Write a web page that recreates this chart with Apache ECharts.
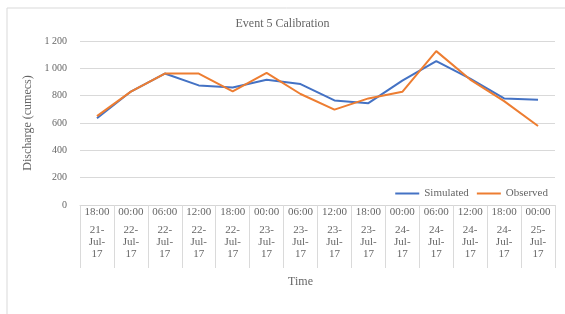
<!DOCTYPE html>
<html>
<head>
<meta charset="utf-8">
<script src="https://cdn.jsdelivr.net/npm/echarts@6/dist/echarts.min.js"></script>
<style>
  html, body { margin: 0; padding: 0; background: #fff; }
  #chart { width: 565px; height: 314px; }
</style>
</head>
<body>
<div id="chart"></div>
<script>
// 时间轴（两行：时刻 + 日期）
var times = ['18:00', '00:00', '06:00', '12:00', '18:00', '00:00', '06:00',
             '12:00', '18:00', '00:00', '06:00', '12:00', '18:00', '00:00'];
var dates = ['21-Jul-17', '22-Jul-17', '22-Jul-17', '22-Jul-17', '22-Jul-17', '23-Jul-17', '23-Jul-17',
             '23-Jul-17', '23-Jul-17', '24-Jul-17', '24-Jul-17', '24-Jul-17', '24-Jul-17', '25-Jul-17'];
var simulated = [635, 830, 962, 875, 860, 917, 885, 765, 745, 910, 1052, 925, 780, 770];
var observed = [650, 830, 962, 962, 832, 967, 812, 698, 780, 828, 1126, 918, 760, 578];
var yTicks = [0, 200, 400, 600, 800, 1000, 1200];

var categories = [];
for (var i = 0; i < times.length; i++) {
  categories.push(times[i] + '|' + dates[i]);
}

var textColor = '#666';
var lineColor = '#d9d9d9';
var font = '"Liberation Serif", "DejaVu Serif", serif';

var chart = echarts.init(document.getElementById('chart'));
var option = {
  backgroundColor: '#fff',
  textStyle: { fontFamily: font },
  graphic: [{
    type: 'rect',
    shape: { x: 7, y: 8, width: 620, height: 400 },
    style: { fill: 'none', stroke: lineColor, lineWidth: 1 },
    silent: true
  }],
  title: {
    text: 'Event 5 Calibration',
    left: 'center',
    top: 13,
    textStyle: { fontFamily: font, fontSize: 12, fontWeight: 'normal', color: textColor }
  },
  legend: {
    right: 12,
    top: 183,
    icon: 'rect',
    itemWidth: 24,
    itemHeight: 2,
    itemGap: 8,
    textStyle: { fontFamily: font, fontSize: 11, color: textColor },
    data: ['Simulated', 'Observed']
  },
  grid: { left: 80, right: 10, top: 41, bottom: 109 },
  xAxis: {
    type: 'category',
    data: categories,
    boundaryGap: true,
    name: 'Time',
    nameLocation: 'middle',
    nameGap: 71,
    nameTextStyle: { fontFamily: font, fontSize: 12, color: textColor, padding: [0, 34, 0, 0] },
    axisLine: { show: true, lineStyle: { color: '#d6d6d6' } },
    axisTick: { show: true, interval: 0, length: 63, lineStyle: { color: '#dadada', width: 1 } },
    axisLabel: {
      interval: 0,
      margin: 5,
      color: textColor,
      fontFamily: font,
      fontSize: 11,
      formatter: function (v) {
        var p = v.split('|');
        var d = p[1].split('-');
        return '{t|' + p[0] + '}\n{d|' + d[0] + '-}\n{d|' + d[1] + '-}\n{d|' + d[2] + '}';
      },
      rich: {
        t: { fontFamily: font, fontSize: 11, color: textColor, lineHeight: 14, padding: [0, 0, 9, 0] },
        d: { fontFamily: font, fontSize: 11, color: textColor, lineHeight: 12 }
      }
    }
  },
  yAxis: {
    type: 'value',
    min: yTicks[0],
    max: yTicks[yTicks.length - 1],
    interval: 200,
    name: 'Discharge (cumecs)',
    nameLocation: 'middle',
    nameGap: 46,
    nameTextStyle: { fontFamily: font, fontSize: 12, color: textColor },
    axisLine: { show: false },
    axisTick: { show: false },
    splitLine: { lineStyle: { color: lineColor } },
    axisLabel: {
      margin: 13,
      color: textColor,
      fontFamily: font,
      fontSize: 10,
      formatter: function (v) {
        return v >= 1000 ? Math.floor(v / 1000) + ' ' + String(v % 1000).padStart(3, '0') : String(v);
      }
    }
  },
  series: [
    {
      name: 'Simulated',
      type: 'line',
      data: simulated,
      symbol: 'none',
      color: '#4472C4',
      lineStyle: { width: 2 }
    },
    {
      name: 'Observed',
      type: 'line',
      data: observed,
      symbol: 'none',
      color: '#ED7D31',
      lineStyle: { width: 2 }
    }
  ]
};
chart.setOption(option);
</script>
</body>
</html>
